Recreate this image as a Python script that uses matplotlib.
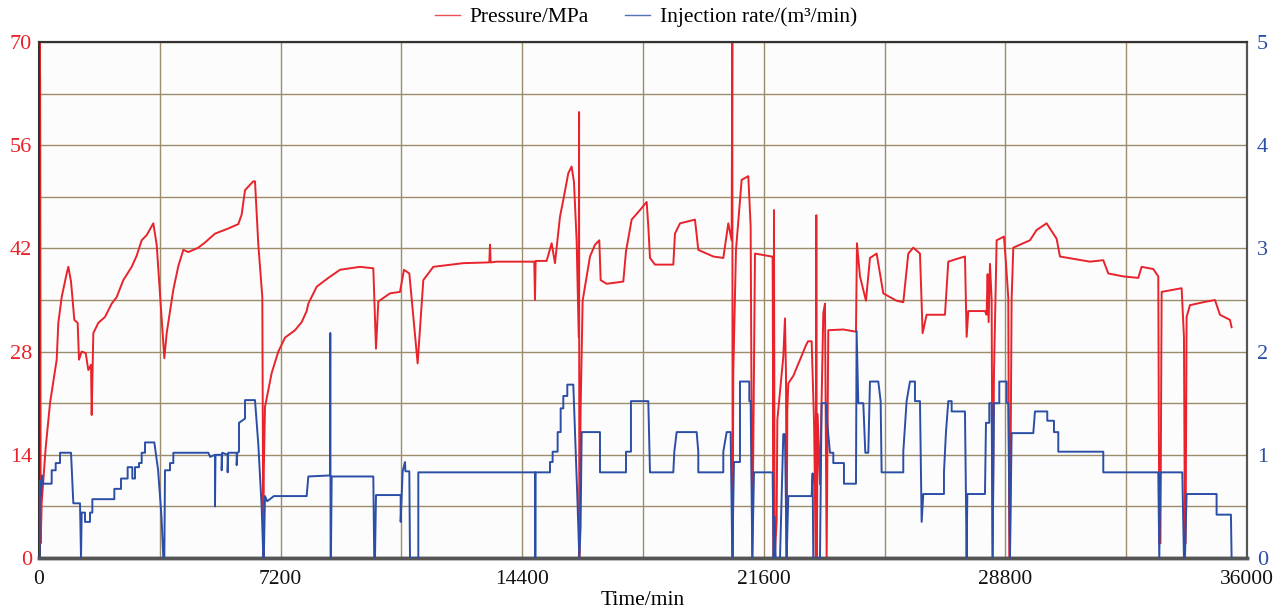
import matplotlib
matplotlib.use("Agg")
import matplotlib.pyplot as plt
from matplotlib.ticker import MultipleLocator
from matplotlib.lines import Line2D

plt.rcParams['font.family'] = ['Liberation Serif', 'DejaVu Serif']

# ---------------- data ----------------
# Pressure (MPa) vs time (min)
p_time = [0, 20, 35, 50, 80, 200, 328, 527, 576, 676, 825, 874, 954, 1053, 1152, 1192, 1272,
          1391, 1470, 1550, 1570, 1619, 1768, 1967, 2166, 2315, 2513, 2762, 2910, 3060, 3209,
          3407, 3507, 3656, 3735, 3805, 4003, 4152, 4301, 4450, 4748, 4947, 5245, 5642, 5940,
          6040, 6139, 6387, 6437, 6536, 6655, 6685, 6700, 6735, 6934, 7132, 7331, 7629, 7828,
          7977, 8026, 8275, 8622, 8970, 9566, 9963, 10043, 10112, 10460, 10758, 10877, 11036,
          11284, 11453, 11751, 12645, 13420, 13440, 13460, 13639, 14760, 14781, 14800, 15128,
          15277, 15377, 15526, 15625, 15774, 15873, 15943, 16022, 16085, 16095, 16102, 16140,
          16201, 16420, 16569, 16698, 16738, 16916, 17413, 17493, 17661, 17910, 18109, 18158,
          18208, 18357, 18903, 18953, 19102, 19549, 19648, 20095, 20393, 20542, 20642, 20661,
          20671, 20690, 20771, 20940, 21138, 21208, 21258, 21307, 21337, 21834, 21863, 21893,
          21903, 21923, 21983, 22003, 22181, 22231, 22261, 22281, 22300, 22330, 22479, 22678,
          22861, 22918, 23026, 23100, 23150, 23165, 23180, 23204, 23274, 23373, 23423, 23473,
          23522, 23969, 24347, 24376, 24466, 24645, 24764, 24962, 25161, 25558, 25757, 25906,
          26055, 26254, 26333, 26452, 26850, 26999, 27098, 27297, 27595, 27645, 27694, 28191,
          28240, 28270, 28300, 28340, 28390, 28419, 28459, 28539, 28757, 28817, 28886, 28916,
          28936, 28985, 29035, 29532, 29731, 30028, 30327, 30426, 31320, 31717, 31866, 32313,
          32760, 32859, 33207, 33356, 33386, 33420, 33456, 34052, 34121, 34151, 34170, 34200,
          34300, 34697, 35045, 35194, 35492, 35541]
p_vals = [0, 70, 64.5, 2, 7.5, 15, 21, 26.9, 31.9, 35.4, 38.6, 39.5, 37.5, 32.3, 31.9, 26.9, 28,
          27.8, 25.5, 26.2, 19.4, 30.5, 31.9, 32.7, 34.5, 35.4, 37.7, 39.5, 41.0, 43.1, 43.8,
          45.4, 42.5, 32.5, 27.1, 30.5, 36.4, 39.6, 41.8, 41.5, 42.1, 42.8, 44.0, 44.7, 45.3,
          46.6, 49.9, 51.1, 51.1, 42.5, 35.4, 0, 12, 20.5, 25.1, 28, 29.9, 30.9, 32,
          33.5, 34.5, 36.8, 38, 39.1, 39.5, 39.3, 28.4, 34.8, 35.9, 36.1, 39.1, 38.6,
          26.4, 37.7, 39.5, 40, 40.1, 42.5, 40.1, 40.2, 40.2, 35, 40.3, 40.3,
          42.7, 40.0, 46.3, 48.6, 52.2, 53.1, 51.0, 43.1, 30, 60.5, 0, 20,
          34.9, 40.9, 42.5, 43.1, 37.7, 37.2, 37.5, 41.6, 45.9, 47.2, 48.3, 45,
          40.7, 39.8, 39.8, 44, 45.4, 45.9, 41.8, 40.9, 40.7, 45.4, 43.1, 70,
          0, 25, 41.8, 51.3, 51.8, 45, 0, 25, 41.3, 40.9, 40.9, 0,
          47.2, 0, 5, 18.7, 27.3, 32.5, 25, 0, 20, 23.7, 24.7, 26.9,
          28.9, 29.4, 29.4, 18, 0, 46.5, 0, 19.5, 10, 33.2, 34.5, 0,
          30.9, 31.0, 30.7, 42.7, 38.2, 34.9, 40.7, 41.3, 35.9, 34.9, 34.7, 41.3,
          42.1, 41.3, 30.5, 33, 33, 33, 40.2, 40.5, 40.9, 30, 33.5, 33.5,
          33, 38.5, 32, 39.9, 35, 0, 25, 43.1, 43.6, 40, 35.3, 0,
          0, 35, 42.1, 43.1, 44.5, 45.4, 43.3, 40.9, 40.2, 40.4, 38.6, 38.2,
          38.0, 39.5, 39.2, 38.2, 2, 2, 36.1, 36.6, 30, 2, 2, 32.7,
          34.3, 34.7, 35, 33, 32.3, 31.3]

# Injection rate (m3/min) vs time (min)
q_time = [0, 15, 25, 60, 90, 130, 378, 378, 497, 497, 626, 626, 954, 1023, 1222, 1252, 1272,
          1371, 1371, 1520, 1520, 1590, 1590, 2245, 2245, 2444, 2444, 2642, 2642, 2781, 2781,
          2861, 2861, 2980, 2980, 3060, 3060, 3159, 3159, 3437, 3550, 3650, 3705, 3735, 3755,
          3904, 3904, 4003, 4003, 5046, 5100, 5245, 5245, 5260, 5444, 5444, 5460, 5622, 5622,
          5640, 5891, 5891, 5910, 5960, 5960, 6139, 6139, 6437, 6536, 6635, 6685, 6700, 6735,
          6800, 7000, 7977, 8026, 8672, 8680, 8690, 8700, 8722, 9963, 9990, 10013, 10043,
          10778, 10778, 10837, 10907, 10920, 11036, 11056, 11304, 11304, 14781, 14790, 14801,
          15228, 15228, 15307, 15307, 15456, 15456, 15546, 15546, 15625, 15625, 15744, 15744,
          15923, 16042, 16102, 16140, 16172, 16718, 16718, 17493, 17493, 17641, 17641, 18158,
          18208, 18903, 18933, 19003, 19599, 19648, 19648, 20393, 20393, 20493, 20612, 20661,
          20711, 20890, 20890, 21168, 21168, 21208, 21258, 21307, 21863, 21893, 21923, 21953,
          22083, 22181, 22231, 22281, 22330, 23026, 23055, 23075, 23274, 23323, 23453, 23473,
          23572, 23671, 23671, 23989, 23989, 24347, 24366, 24416, 24565, 24625, 24714, 24764,
          25012, 25082, 25111, 25757, 25757, 25856, 25956, 26105, 26105, 26254, 26304, 26353,
          26969, 26969, 27029, 27098, 27198, 27198, 27595, 27645, 27665, 28191, 28221, 28320,
          28320, 28390, 28419, 28459, 28618, 28618, 28837, 28837, 28886, 28936, 28985, 29631,
          29681, 30048, 30048, 30247, 30247, 30376, 30376, 31717, 31717, 33356, 33386, 33420,
          34072, 34121, 34151, 34200, 35094, 35094, 35521, 35541]
q_vals = [0, 0, 0.75, 0.6, 0.8, 0.72, 0.72, 0.85, 0.85, 0.92, 0.92, 1.02, 1.02, 0.53, 0.53, 0, 0.44,
          0.44, 0.35, 0.35, 0.44, 0.44, 0.57, 0.57, 0.67, 0.67, 0.77, 0.77, 0.88, 0.88, 0.77,
          0.77, 0.88, 0.88, 0.92, 0.92, 1.02, 1.02, 1.12, 1.12, 0.85, 0.4, 0, 0, 0.85,
          0.85, 0.92, 0.92, 1.02, 1.02, 0.98, 1.0, 0.5, 1.0, 1.0, 0.85, 1.02, 1.0, 0.83,
          1.02, 1.02, 0.9, 1.02, 1.03, 1.31, 1.35, 1.53, 1.53, 1.1, 0.5, 0, 0, 0.6,
          0.55, 0.6, 0.6, 0.79, 0.8, 2.18, 0, 0, 0.79, 0.79, 0, 0, 0.61,
          0.61, 0.35, 0.84, 0.93, 0.84, 0.84, 0, 0, 0.83, 0.83, 0, 0.83,
          0.83, 0.93, 0.93, 1.03, 1.03, 1.22, 1.22, 1.45, 1.45, 1.57, 1.57, 1.68,
          1.68, 0.6, 0, 0.3, 1.22, 1.22, 0.83, 0.83, 1.03, 1.03, 1.52, 1.52,
          0.83, 0.83, 1.03, 1.22, 1.22, 1.03, 0.83, 0.83, 1.03, 1.22, 1.22, 0,
          0.93, 0.93, 1.71, 1.71, 1.52, 1.52, 0, 0.83, 0.83, 0, 0.4, 0,
          0, 1.2, 1.2, 0, 0.6, 0.6, 0.82, 0, 0, 1.5, 1.5, 1.37,
          1.02, 1.02, 0.92, 0.92, 0.72, 0.72, 2.2, 1.5, 1.5, 1.02, 1.02, 1.71,
          1.71, 1.52, 0.83, 0.83, 1.03, 1.52, 1.71, 1.71, 1.52, 1.52, 0.35, 0.62,
          0.62, 0.83, 1.22, 1.52, 1.52, 1.42, 1.42, 0, 0.62, 0.62, 1.31, 1.31,
          1.5, 1.5, 0, 1.5, 1.5, 1.71, 1.71, 1.5, 1.5, 0, 1.21, 1.21,
          1.42, 1.42, 1.33, 1.33, 1.22, 1.22, 1.03, 1.03, 0.83, 0.83, 0, 0.83,
          0.83, 0, 0, 0.62, 0.62, 0.42, 0.42, 0]

x_ticks = [0, 7200, 14400, 21600, 28800, 36000]
p_ticks = [0, 14, 28, 42, 56, 70]
q_ticks = [0, 1, 2, 3, 4, 5]

RED = '#e8232b'
BLUE = '#2b4ea6'
GRID = '#9c8c6c'

fig = plt.figure(figsize=(12.82, 6.09), dpi=100)
ax = fig.add_axes([39/1282, 51/609, 1208/1282, 516/609])
ax.set_facecolor('#fcfcfc')
ax2 = ax.twinx()

ax.plot(p_time, p_vals, color=RED, lw=1.4, zorder=3)
ax2.plot(q_time, q_vals, color=BLUE, lw=1.4, zorder=3)

ax.set_xlim(0, 36000)
ax.set_ylim(0, 70)
ax2.set_ylim(0, 5)
ax.set_xticks(x_ticks)
ax.set_yticks(p_ticks)
ax2.set_yticks(q_ticks)
ax.xaxis.set_minor_locator(MultipleLocator(3600))
ax.yaxis.set_minor_locator(MultipleLocator(7))
ax.grid(which='both', color=GRID, lw=1.0)
ax.set_axisbelow(True)

ax.tick_params(axis='x', which='both', length=0, pad=9, labelsize=15.5, labelcolor='#111111')
ax.tick_params(axis='y', which='both', length=0, pad=5, labelsize=16, labelcolor=RED)
ax2.tick_params(axis='y', which='both', length=0, pad=7, labelsize=16, labelcolor=BLUE)

for a in (ax, ax2):
    for s in a.spines.values():
        s.set_color('#333333')
        s.set_linewidth(1.5)
ax.spines['bottom'].set_linewidth(2.5)
ax.spines['bottom'].set_color('#555555')
ax2.spines['bottom'].set_linewidth(2.5)
ax2.spines['bottom'].set_color('#555555')
ax.spines['left'].set_linewidth(2)
ax2.spines['right'].set_color('#555555')

ax.set_xlabel('Time/min', fontsize=15.5, labelpad=1)

handles = [Line2D([], [], color=RED, lw=1.0, alpha=0.8), Line2D([], [], color=BLUE, lw=1.0, alpha=0.8)]
fig.legend(handles, ['Pressure/MPa', 'Injection rate/(m³/min)'], loc='center',
           bbox_to_anchor=(646/1282, 1 - 17/609), ncol=2, frameon=False, fontsize=15.5,
           handlelength=1.15, columnspacing=1.7, handletextpad=0.45)

fig.savefig('out.png', dpi=100)
